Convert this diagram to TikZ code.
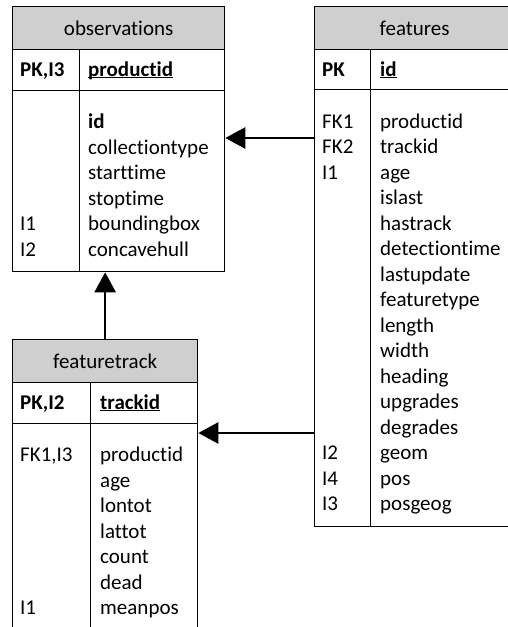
\documentclass[tikz,border=0pt]{standalone}
\usepackage{fontspec}
\setmainfont{Carlito}[Ligatures={NoCommon,NoContextual}]
\usetikzlibrary{arrows.meta}
\definecolor{hdrgray}{RGB}{207,207,207}
\newcommand\erfont{\fontsize{21pt}{25.53pt}\selectfont}
% underline that sits just under the baseline
\newcommand\keyul[1]{\setbox0\hbox{#1}\rlap{\rule[-2.4pt]{\wd0}{1.4pt}}\box0}
\tikzset{
  cell/.style={draw=black, line width=1.3pt, rectangle, anchor=north west, inner sep=0pt},
  hdr/.style={cell, fill=hdrgray, font=\erfont, text height=14.5pt, text depth=0pt},
  txt/.style={anchor=base west, inner sep=0pt, font=\erfont},
  keytxt/.style={txt, font=\erfont\bfseries},
  fk/.style={line width=2.5pt, -{Triangle[length=20pt, width=21pt]}},
}
\begin{document}
\begin{tikzpicture}[x=1pt, y=-1pt]
\useasboundingbox (0,0) rectangle (507,627);

% ---------- observations ----------
\node[hdr,  minimum width=212pt, minimum height=43pt]  (obsHead)  at (12,6) {observations};
\node[cell, minimum width=67pt,  minimum height=41pt]  (obsKeyL)  at (12,49) {};
\node[cell, minimum width=145pt, minimum height=41pt]  (obsKeyR)  at (79,49) {};
\node[cell, minimum width=67pt,  minimum height=181pt] (obsBodyL) at (12,90) {};
\node[cell, minimum width=145pt, minimum height=181pt] (obsBodyR) at (79,90) {};
\node[keytxt] (obsPK)  at (20,76) {PK,I3};
\node[keytxt] (obsPKn) at (88,76) {\keyul{productid}};
\foreach \t [count=\i] in {\textbf{id},collectiontype,starttime,stoptime,boundingbox,concavehull}
  \node[txt] (obsF\i) at (88,{128.5+25.53*(\i-1)}) {\t};
\node[txt] (obsI1) at (20,{128.5+25.53*4}) {I1};
\node[txt] (obsI2) at (20,{128.5+25.53*5}) {I2};

% ---------- features ----------
\node[hdr,  minimum width=200pt, minimum height=43pt]  (featHead)  at (314,6) {features};
\node[cell, minimum width=56pt,  minimum height=40pt]  (featKeyL)  at (314,49) {};
\node[cell, minimum width=144pt, minimum height=40pt]  (featKeyR)  at (370,49) {};
\node[cell, minimum width=56pt,  minimum height=437pt] (featBodyL) at (314,89) {};
\node[cell, minimum width=144pt, minimum height=437pt] (featBodyR) at (370,89) {};
\node[keytxt] (featPK)  at (322,76) {PK};
\node[keytxt] (featPKn) at (380,76) {\keyul{id}};
\foreach \t [count=\i] in {productid,trackid,age,islast,hastrack,detectiontime,lastupdate,featuretype,length,width,heading,upgrades,degrades,geom,pos,posgeog}
  \node[txt] (featF\i) at (380,{128+25.53*(\i-1)}) {\t};
\foreach \t/\i in {FK1/1,FK2/2,I1/3,I2/14,I4/15,I3/16}
  \node[txt] (featK\i) at (322,{128+25.53*(\i-1)}) {\t};

% ---------- featuretrack ----------
\node[hdr,  minimum width=185pt, minimum height=43pt]  (ftHead)  at (12,339) {featuretrack};
\node[cell, minimum width=78pt,  minimum height=41pt]  (ftKeyL)  at (12,382) {};
\node[cell, minimum width=107pt, minimum height=41pt]  (ftKeyR)  at (90,382) {};
\node[cell, minimum width=78pt,  minimum height=240pt] (ftBodyL) at (12,423) {};
\node[cell, minimum width=107pt, minimum height=240pt] (ftBodyR) at (90,423) {};
\node[keytxt] (ftPK)  at (20,409) {PK,I2};
\node[keytxt] (ftPKn) at (100,409) {\keyul{trackid}};
\foreach \t [count=\i] in {productid,age,lontot,lattot,count,dead,meanpos}
  \node[txt] (ftF\i) at (100,{461.5+25.53*(\i-1)}) {\t};
\node[txt] (ftK1) at (20,461.5) {FK1,I3};
\node[txt] (ftK7) at (20,{461.5+25.53*6}) {I1};

% ---------- relationships ----------
\coordinate (yObs) at (0,138);
\coordinate (yTrk) at (0,433);
\draw[fk] (featBodyL.west |- yObs) -- (obsBodyR.east |- yObs);
\draw[fk] (featBodyL.west |- yTrk) -- (ftBodyR.east |- yTrk);
\draw[fk] (ftHead.north) -- (ftHead.north |- obsBodyL.south);
\end{tikzpicture}
\end{document}
